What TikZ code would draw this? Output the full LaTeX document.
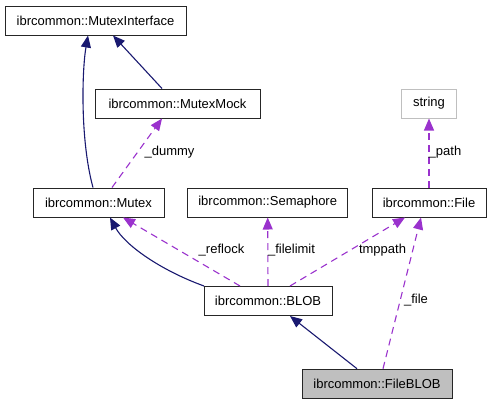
\documentclass[tikz,border=0pt]{standalone}
\usepackage{fontspec}
\setmainfont{Liberation Sans}
\usetikzlibrary{arrows.meta}
\definecolor{navyedge}{HTML}{191970}
\definecolor{purpedge}{HTML}{9A32CD}
\definecolor{greybox}{HTML}{BFBFBF}
\begin{document}
\begin{tikzpicture}[x=1pt,y=-1pt,
  cls/.style={draw=black!85,line width=1pt,fill=white,inner sep=0pt,minimum height=29pt,font=\fontsize{13}{15}\selectfont},
  inh/.style={draw=navyedge,line width=1.1pt,-{Triangle[length=12pt,width=10pt,fill=navyedge]}},
  use/.style={draw=purpedge,line width=1.1pt,dash pattern=on 7pt off 5pt,-{Triangle[length=12pt,width=10pt,fill=purpedge]}},
  lbl/.style={font=\fontsize{13}{15}\selectfont,inner sep=0pt}]
\useasboundingbox (0,0) rectangle (492,405);
\node[cls,minimum width=181pt] (mi) at (95.5,20.5) {ibrcommon::MutexInterface};
\node[cls,minimum width=165pt] (mm) at (177.5,103.5) {ibrcommon::MutexMock};
\node[cls,minimum width=131pt] (mutex) at (98.5,202.5) {ibrcommon::Mutex};
\node[cls,minimum width=160pt] (sem) at (267.7,202.5) {ibrcommon::Semaphore};
\node[cls,minimum width=114pt] (file) at (429,202.5) {ibrcommon::File};
\node[cls,draw=greybox,minimum width=55pt] (str) at (429,103.5) {string};
\node[cls,minimum width=128pt] (blob) at (268,301) {ibrcommon::BLOB};
\node[cls,fill=greybox,minimum width=150pt] (fb) at (377,383.7) {ibrcommon::FileBLOB};

\draw[inh] ([xshift=-5.5pt]mutex.north) .. controls (80,140) and (82,70) .. ([xshift=-7.5pt]mi.south);
\draw[inh] ([xshift=-15.5pt]mm.north) -- ([xshift=17.5pt]mi.south);
\draw[use] ([xshift=13.5pt]mutex.north) -- ([xshift=-15.5pt]mm.south);
\draw[inh] ([xshift=0.5pt]blob.north west) .. controls (160,270) and (125,245) .. ([xshift=11.5pt]mutex.south);
\draw[use] ([xshift=-28pt]blob.north) -- ([xshift=24.5pt]mutex.south);
\draw[use] (blob.north) -- (sem.south);
\draw[use] ([xshift=22pt]blob.north) -- ([xshift=-24pt]file.south);
\draw[inh] ([xshift=-20pt]fb.north) -- ([xshift=22pt]blob.south);
\draw[use] ([xshift=6pt]fb.north) -- ([xshift=-8pt]file.south);
\draw[use] (file.north) -- (str.south);

\node[lbl] (l1) at (169.5,152) {\_dummy};
\node[lbl] (l2) at (221.5,250) {\_reflock};
\node[lbl] (l3) at (291.5,250) {\_filelimit};
\node[lbl] (l4) at (382.5,250) {tmppath};
\node[lbl] (l5) at (416,300) {\_file};
\node[lbl] (l6) at (445,152) {\_path};
\end{tikzpicture}
\end{document}
